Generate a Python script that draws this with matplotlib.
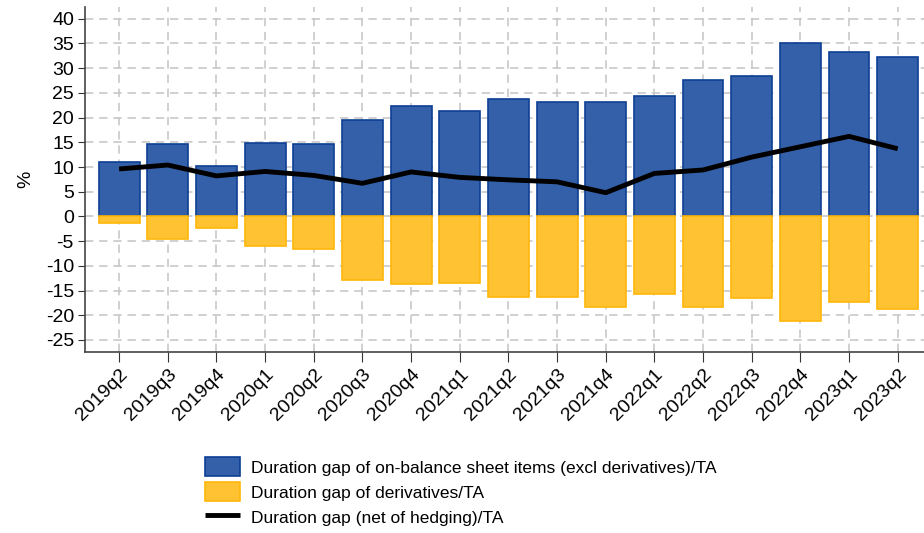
import matplotlib.pyplot as plt
import numpy as np

plt.rcParams['font.family'] = ['Liberation Sans', 'DejaVu Sans']
plt.rcParams['axes.unicode_minus'] = False

# quarters and series (% of total assets)
quarters = ['2019q2', '2019q3', '2019q4', '2020q1', '2020q2', '2020q3', '2020q4',
            '2021q1', '2021q2', '2021q3', '2021q4', '2022q1', '2022q2', '2022q3',
            '2022q4', '2023q1', '2023q2']
on_balance = [11.0, 14.6, 10.3, 14.9, 14.7, 19.5, 22.4, 21.3, 23.8, 23.1, 23.1,
              24.3, 27.7, 28.4, 35.1, 33.2, 32.3]
derivatives = [-1.4, -4.5, -2.3, -5.9, -6.6, -12.9, -13.6, -13.4, -16.4, -16.3, -18.4,
               -15.8, -18.3, -16.6, -21.2, -17.4, -18.7]
net_gap = [9.6, 10.4, 8.2, 9.1, 8.3, 6.7, 9.0, 7.9, 7.4, 7.0, 4.8, 8.7, 9.4, 12.0,
           14.1, 16.2, 13.7]

blue = '#3460a9'
blue_edge = '#0d3f94'
yellow = '#ffc233'
yellow_edge = '#ffb60a'

fig = plt.figure(figsize=(9.24, 5.33), dpi=100)
ax = fig.add_axes([0.092, 0.34, 0.908, 0.647])

x = np.arange(len(quarters))
b1 = ax.bar(x, on_balance, width=0.84, color=blue, edgecolor=blue_edge, linewidth=1.2,
            label='Duration gap of on-balance sheet items (excl derivatives)/TA', zorder=2)
b2 = ax.bar(x, derivatives, width=0.84, color=yellow, edgecolor=yellow_edge, linewidth=1.2,
            label='Duration gap of derivatives/TA', zorder=2)
ln, = ax.plot(x, net_gap, color='black', linewidth=3.5, solid_capstyle='butt',
              label='Duration gap (net of hedging)/TA', zorder=3)

ax.set_xlim(-0.7, len(quarters) - 0.46)
ax.set_ylim(-27.4, 42.4)
ax.set_yticks(range(-25, 41, 5))
ax.set_xticks(x)
ax.set_xticklabels(quarters, rotation=45, ha='right', rotation_mode='anchor')
ax.tick_params(axis='both', labelsize=14, color='#333333', length=5, pad=3)
ax.tick_params(axis='x', length=7)
ax.set_ylabel('%', fontsize=14, labelpad=8)

ax.grid(True, color='#c8c8c8', linestyle=(0, (5, 3.5)), linewidth=1.2, zorder=0)
ax.set_axisbelow(True)
for s in ['top', 'right']:
    ax.spines[s].set_visible(False)
for s in ['left', 'bottom']:
    ax.spines[s].set_color('#444444')
    ax.spines[s].set_linewidth(1.2)

fig.legend(handles=[b1, b2, ln], loc='upper left', bbox_to_anchor=(0.213, 0.158),
           frameon=False, fontsize=12.5, handlelength=2.0, handleheight=1.3,
           handletextpad=0.6, labelspacing=0.35, borderpad=0)

fig.savefig('out.png', dpi=100)
